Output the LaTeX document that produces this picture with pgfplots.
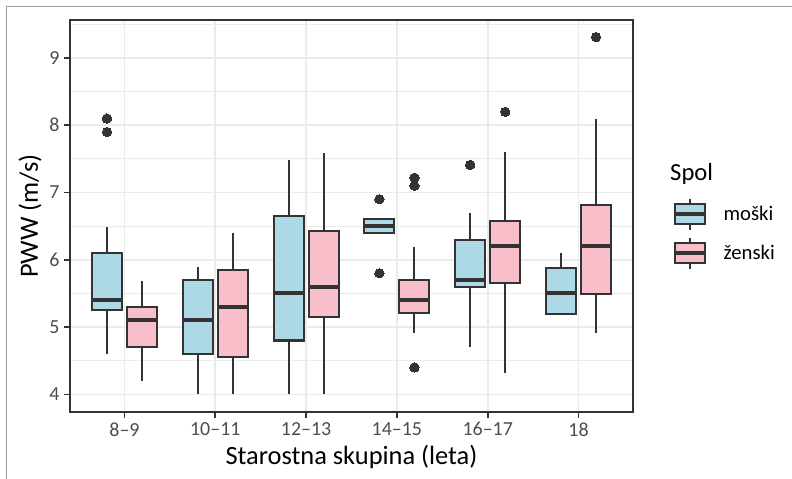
\documentclass[border=0pt]{standalone}
\usepackage{fontspec}
\setmainfont{Carlito}
\usepackage{pgfplots}
\pgfplotsset{compat=1.18}
\usepgfplotslibrary{statistics}
\definecolor{boxline}{HTML}{333333}
\definecolor{male}{HTML}{ADD8E6}
\definecolor{female}{HTML}{F8BFCB}
\definecolor{gridc}{HTML}{EBEBEB}
\definecolor{tickc}{HTML}{4D4D4D}
\definecolor{framec}{HTML}{9A9A9A}
\pgfplotsset{
  bxm/.style={boxline, fill=male, line width=2.1bp, solid, mark=*, mark size=4.7bp,
    mark options={fill=boxline, draw=boxline, line width=0bp}},
  bxf/.style={boxline, fill=female, line width=2.1bp, solid, mark=*, mark size=4.7bp,
    mark options={fill=boxline, draw=boxline, line width=0bp}},
}
\begin{document}
\begin{tikzpicture}
\path[use as bounding box] (0bp,0bp) rectangle (792bp,479bp);
\draw[framec, line width=1bp] (6.5bp,0bp) -- (6.5bp,472.5bp) -- (792bp,472.5bp);
\begin{axis}[
  at={(70bp,67bp)}, anchor=south west,
  scale only axis, width=563bp, height=392bp,
  xmin=0.4, xmax=6.6, ymin=3.737, ymax=9.565,
  xtick={1,2,3,4,5,6},
  xticklabels={8–9,10–11,12–13,14–15,16–17,18},
  ytick={4,5,6,7,8,9},
  minor ytick={4.5,5.5,6.5,7.5,8.5,9.5},
  grid=both,
  major grid style={gridc, line width=1.6bp},
  minor grid style={gridc, line width=0.8bp},
  axis line style={boxline, line width=1.6bp},
  tick style={boxline, line width=1.6bp},
  major tick length=6bp, minor tick length=0bp,
  tick align=outside, tick pos=left,
  /pgf/number format/assume math mode=true,
  ticklabel style={font=\fontsize{20}{20}\selectfont, text=tickc},
  xticklabel style={yshift=-1bp},
  yticklabel style={xshift=-1bp},
  xlabel={Starostna skupina (leta)},
  ylabel={PWW (m/s)},
  label style={font=\fontsize{26.5}{26.5}\selectfont, text=black},
  xlabel style={yshift=-2bp},
  ylabel style={yshift=1bp},
  boxplot/draw direction=y,
  boxplot/box extend=0.33,
  boxplot/whisker extend=0,
  boxplot/every box/.style={line width=2.1bp},
  boxplot/every whisker/.style={line width=2bp},
  boxplot/every median/.style={line width=4bp},
  legend style={at={(1.0711,0.5542)}, anchor=north west, draw=none, fill=none,
    inner sep=0pt, outer sep=0pt, row sep=0pt, column sep=17bp,
    nodes={inner sep=0pt, font=\fontsize{20.8}{20.8}\selectfont},
    cells={anchor=west}},
]
% 8-9
\addplot[bxm, forget plot, boxplot prepared={draw position=0.807, lower whisker=4.6, lower quartile=5.26, median=5.4, upper quartile=6.1, upper whisker=6.49}] coordinates {(0,8.1) (0,7.9)};
\addplot[bxf, forget plot, boxplot prepared={draw position=1.193, lower whisker=4.2, lower quartile=4.7, median=5.1, upper quartile=5.3, upper whisker=5.69}] coordinates {};
% 10-11
\addplot[bxm, forget plot, boxplot prepared={draw position=1.807, lower whisker=4.0, lower quartile=4.6, median=5.1, upper quartile=5.7, upper whisker=5.9}] coordinates {};
\addplot[bxf, forget plot, boxplot prepared={draw position=2.193, lower whisker=4.0, lower quartile=4.56, median=5.3, upper quartile=5.85, upper whisker=6.4}] coordinates {};
% 12-13
\addplot[bxm, forget plot, boxplot prepared={draw position=2.807, lower whisker=4.0, lower quartile=4.8, median=5.5, upper quartile=6.65, upper whisker=7.49}] coordinates {};
\addplot[bxf, forget plot, boxplot prepared={draw position=3.193, lower whisker=4.0, lower quartile=5.15, median=5.6, upper quartile=6.43, upper whisker=7.59}] coordinates {};
% 14-15
\addplot[bxm, forget plot, boxplot prepared={draw position=3.807, lower whisker=6.4, lower quartile=6.4, median=6.5, upper quartile=6.6, upper whisker=6.6}] coordinates {(0,6.9) (0,5.8)};
\addplot[bxf, forget plot, boxplot prepared={draw position=4.193, lower whisker=4.91, lower quartile=5.21, median=5.4, upper quartile=5.7, upper whisker=6.19}] coordinates {(0,7.22) (0,7.1) (0,4.4)};
% 16-17
\addplot[bxm, forget plot, boxplot prepared={draw position=4.807, lower whisker=4.7, lower quartile=5.6, median=5.7, upper quartile=6.3, upper whisker=6.69}] coordinates {(0,7.41)};
\addplot[bxf, forget plot, boxplot prepared={draw position=5.193, lower whisker=4.31, lower quartile=5.66, median=6.21, upper quartile=6.57, upper whisker=7.6}] coordinates {(0,8.2)};
% 18
\addplot[bxm, forget plot, boxplot prepared={draw position=5.807, lower whisker=5.2, lower quartile=5.2, median=5.5, upper quartile=5.88, upper whisker=6.1}] coordinates {};
\addplot[bxf, forget plot, boxplot prepared={draw position=6.193, lower whisker=4.91, lower quartile=5.49, median=6.2, upper quartile=6.81, upper whisker=8.09}] coordinates {(0,9.31)};
% legend
\addlegendimage{legend image code/.code={
  \draw[boxline, line width=2bp] (15bp,-15.5bp) -- (15bp,15.5bp);
  \draw[boxline, fill=male, line width=2.1bp] (0bp,-10bp) rectangle (30bp,10bp);
  \draw[boxline, line width=3.6bp] (0bp,0bp) -- (30bp,0bp);
  \path (0bp,-19.25bp) (0bp,19.25bp);
}}
\addlegendentry{moški}
\addlegendimage{legend image code/.code={
  \draw[boxline, line width=2bp] (15bp,-15.5bp) -- (15bp,15.5bp);
  \draw[boxline, fill=female, line width=2.1bp] (0bp,-10bp) rectangle (30bp,10bp);
  \draw[boxline, line width=3.6bp] (0bp,0bp) -- (30bp,0bp);
  \path (0bp,-19.25bp) (0bp,19.25bp);
}}
\addlegendentry{ženski}
\end{axis}
\node[anchor=base west, inner sep=0pt, font=\fontsize{24.7}{24.7}\selectfont] at (670bp,298.5bp) {Spol};
\end{tikzpicture}
\end{document}
